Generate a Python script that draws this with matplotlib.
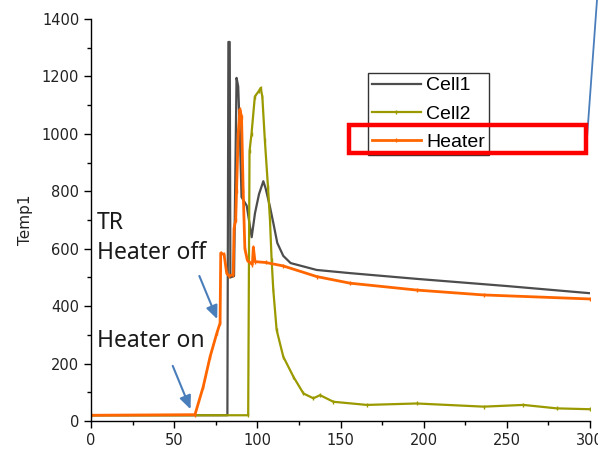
import matplotlib
matplotlib.use("Agg")
import matplotlib.pyplot as plt
from matplotlib.patches import Rectangle
from matplotlib.lines import Line2D

# ---- data ----
cell1_t = [0, 82, 82.6, 83.4, 83.8, 86, 87.5, 88.5, 89.5, 90.5, 93.6, 96.6, 98.6, 101,
           103.6, 105, 107.6, 109.6, 112, 115.6, 120, 135.7, 155.7, 195.8, 250, 300]
cell1_v = [20, 20, 1320, 1320, 500, 505, 1195, 1165, 1000, 780, 750, 640, 724, 790,
           835, 810, 746, 690, 620, 575, 550, 526, 515, 495, 470, 445]

cell2_t = [0, 94.5, 95.3, 96.5, 98.5, 101, 102, 103, 104.5, 106.4, 107.6, 108.6, 109.6,
           111.6, 115.6, 121.7, 127.7, 133.7, 137.7, 145.7, 165.8, 195.8, 236, 260, 280, 300]
cell2_v = [20, 20, 940, 1000, 1130, 1150, 1160, 1130, 980, 815, 700, 560, 456,
           317, 224, 154, 96, 79, 90, 67, 56, 61, 50, 56, 44, 41]

heater_t = [0, 62.5, 67.5, 71.6, 75.6, 77.6, 78, 80, 81.6, 83, 85.5, 86, 87, 87.5,
            88.5, 89.5, 90.5, 91.5, 92.5, 94, 97, 97.6, 98.6, 105, 115.6,
            135.7, 155.7, 195.8, 236, 300]
heater_v = [20, 22, 120, 224, 305, 341, 585, 580, 514, 505, 510, 670, 700, 800,
            1000, 1085, 1060, 800, 600, 560, 545, 605, 555, 552, 540,
            503, 480, 456, 439, 425]

series_names = ["Cell1", "Cell2", "Heater"]
x_ticks = [0, 50, 100, 150, 200, 250, 300]
y_ticks = [0, 200, 400, 600, 800, 1000, 1200, 1400]

# ---- figure ----
fig = plt.figure(figsize=(5.98, 4.54), dpi=100)
ax = fig.add_axes([91/598, 33/454, 499/598, 402/454])

c_gray = "#4d4d4d"
c_olive = "#9a9a00"
c_orange = "#ff6600"

ax.plot(cell1_t, cell1_v, color=c_gray, lw=1.6, label=series_names[0])
ax.plot(cell2_t, cell2_v, color=c_olive, lw=1.6, marker="|", ms=3, mew=1,
        label=series_names[1])
ax.plot(heater_t, heater_v, color=c_orange, lw=2.0, marker="|", ms=3, mew=1,
        label=series_names[2])

ax.set_xlim(0, 300)
ax.set_ylim(0, 1400)
ax.set_xticks(x_ticks)
ax.set_yticks(y_ticks)
ax.set_xticks([25, 75, 125, 175, 225, 275], minor=True)
ax.set_yticks([100, 300, 500, 700, 900, 1100, 1300], minor=True)
ax.spines["top"].set_visible(False)
ax.spines["right"].set_visible(False)
for s in ("left", "bottom"):
    ax.spines[s].set_linewidth(1.0)
ax.tick_params(which="major", direction="out", length=5, width=1,
               labelsize=10.5, labelcolor="#222222")
ax.tick_params(which="minor", direction="out", length=3, width=1)
ax.set_ylabel("Temp1", fontsize=11, color="#222222", labelpad=6)

# legend
leg = ax.legend(loc="upper left", bbox_to_anchor=(368/598, 1-73/454),
                bbox_transform=fig.transFigure, borderaxespad=0,
                prop={"family": "Liberation Sans", "size": 14},
                frameon=True, fancybox=False, edgecolor="black",
                handlelength=2.5, handletextpad=0.3, borderpad=0.2,
                labelspacing=0.55)
leg.get_frame().set_linewidth(1.0)
for h in leg.legend_handles:
    h.set_markersize(3)

# annotations
txt_kw = dict(fontsize=16.5, family="Noto Sans", color="#1a1a1a", va="top", ha="left")
ax.text(3.6, 732, "TR", **txt_kw)
ax.text(3.6, 627, "Heater off", **txt_kw)
ax.text(3.6, 322, "Heater on", **txt_kw)

arrow_kw = dict(arrowstyle="-|>,head_length=0.8,head_width=0.35", color="#4a7ebb", lw=1.5)
ax.annotate("", xy=(76.5, 346), xytext=(64.5, 514), arrowprops=arrow_kw)
ax.annotate("", xy=(60.5, 32), xytext=(48.5, 201), arrowprops=arrow_kw)

# red highlight box and blue line in figure coords
fig.patches.append(Rectangle((349/598, 1-153/454), 237/598, 28/454,
                             transform=fig.transFigure, fill=False,
                             edgecolor="#ff0000", lw=3.2, zorder=10))
fig.lines.append(Line2D([597/598, 587/598], [1.0, 1-138/454],
                        transform=fig.transFigure, color="#4a7ebb", lw=1.3))

fig.savefig("out.png", dpi=100)
